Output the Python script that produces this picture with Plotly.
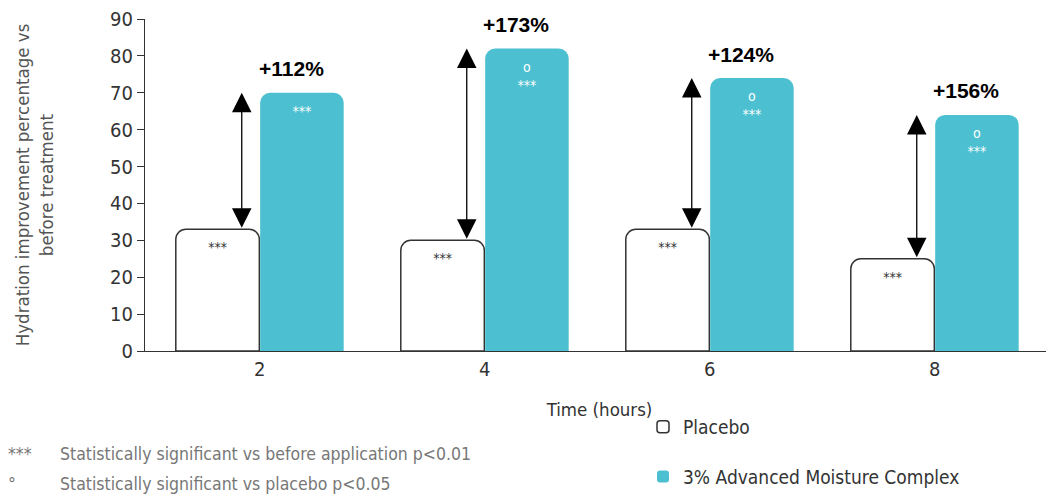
import plotly.graph_objects as go

categories = ["2", "4", "6", "8"]
placebo = [33, 30, 33, 25]
active = [70, 82, 74, 64]
increase_labels = ["+112%", "+173%", "+124%", "+156%"]
placebo_marks = ["***", "***", "***", "***"]
active_marks = ["***", "o<br>***", "o<br>***", "o<br>***"]
y_ticks = [0, 10, 20, 30, 40, 50, 60, 70, 80, 90]
foot_symbols = ["***", "°"]
foot_texts = ["Statistically significant vs before application p<0.01",
              "Statistically significant vs placebo p<0.05"]

FONT = "DejaVu Sans Condensed"
TEAL = "#4cc0d0"

# the page body has an 8px margin; compensate so the plot lands where the reference has it
OFF = 8
W, H = 1054 - OFF, 496 - OFF
L, T, B = 145 - OFF, 19 - OFF, 144
PW, PH = W - L, H - T - B


def px_x(px):
    return (px - OFF - L) / PW


def px_y(py):
    return (H - (py - OFF) - B) / PH


def f(size, color):
    return dict(size=size, color=color, family=FONT)


fig = go.Figure()
fig.add_trace(go.Bar(
    x=categories, y=placebo, name="Placebo", legendgroup="a",
    marker=dict(color="white", line=dict(color="#333333", width=1.5)),
    text=placebo_marks, textposition="inside", insidetextanchor="end",
    textfont=f(14, "#333333"),
    hoverinfo="skip",
))
fig.add_trace(go.Bar(
    x=categories, y=active, name="3% Advanced Moisture Complex", legendgroup="b",
    marker=dict(color=TEAL, line=dict(color=TEAL, width=0)),
    text=active_marks, textposition="inside", insidetextanchor="end",
    textfont=f(14, "white"),
    hoverinfo="skip",
))

for i, cat in enumerate(categories):
    xi = i - 0.08
    fig.add_annotation(
        x=xi, y=active[i], ax=xi, ay=placebo[i],
        xref="x", yref="y", axref="x", ayref="y",
        text="", showarrow=True, arrowhead=2, startarrowhead=2,
        arrowside="end+start", arrowsize=3, startarrowsize=3,
        arrowwidth=1.3, arrowcolor="black",
    )
    fig.add_annotation(
        x=i + 0.14, y=active[i], xref="x", yref="y",
        text="<b>" + increase_labels[i] + "</b>", showarrow=False,
        yshift=24, font=dict(size=21, color="black", family="Liberation Sans, Arial, sans-serif"),
    )

foot_font = f(17.5, "#777777")
for j, (sym, txt) in enumerate(zip(foot_symbols, foot_texts)):
    py = 455 + 30 * j
    fig.add_annotation(
        x=px_x(6), y=px_y(py), xref="paper", yref="paper",
        xanchor="left", yanchor="middle", showarrow=False,
        text=sym, font=foot_font,
    )
    fig.add_annotation(
        x=px_x(58), y=px_y(py), xref="paper", yref="paper",
        xanchor="left", yanchor="middle", showarrow=False,
        text=txt, font=foot_font,
    )

fig.update_layout(
    width=W, height=H,
    margin=dict(l=L, r=0, t=T, b=B),
    paper_bgcolor="white", plot_bgcolor="white",
    barmode="group", bargap=0.25, bargroupgap=0.01,
    barcornerradius=10,
    font=dict(family=FONT, color="#333333"),
    showlegend=True,
    legend=dict(
        x=px_x(643), y=px_y(409), xanchor="left", yanchor="top",
        bgcolor="white", font=f(19, "#333333"),
        traceorder="grouped", tracegroupgap=22, itemwidth=30,
    ),
    xaxis=dict(
        type="category", range=[-0.51, 3.53],
        showline=True, linecolor="#333333", linewidth=1.2,
        ticks="", tickfont=f(20, "#333333"),
        title=dict(text="Time (hours)", font=f(18.5, "#333333"), standoff=22),
        showgrid=False, zeroline=False,
    ),
    yaxis=dict(
        range=[0, 90], tickvals=y_ticks, ticklabeloverflow="allow",
        showline=True, linecolor="#333333", linewidth=1.2,
        ticks="outside", ticklen=7, tickcolor="#333333",
        tickfont=f(20, "#333333"),
        title=dict(text="Hydration improvement percentage vs<br>before treatment",
                   font=f(18.5, "#555555"), standoff=51),
        showgrid=False, zeroline=False,
    ),
)

fig.write_html("out.html")
